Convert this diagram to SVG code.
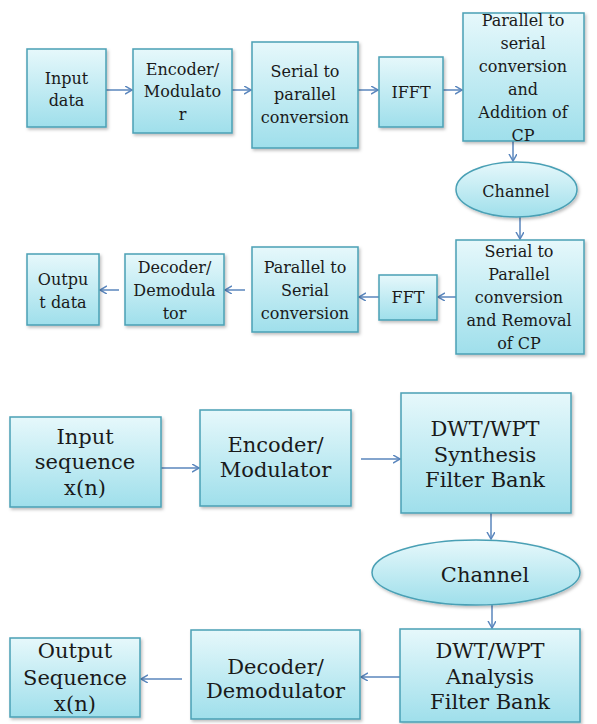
<svg xmlns="http://www.w3.org/2000/svg" width="597" height="724" viewBox="0 0 597 724">
<defs>
<linearGradient id="g" x1="0" y1="0" x2="0" y2="1">
<stop offset="0" stop-color="#e6f8fb"/>
<stop offset="1" stop-color="#9fdfeb"/>
</linearGradient>
<filter id="sh" x="-10%" y="-10%" width="130%" height="130%">
<feDropShadow dx="1.5" dy="2" stdDeviation="1.5" flood-color="#000" flood-opacity="0.25"/>
</filter>
<marker id="ah" markerUnits="userSpaceOnUse" markerWidth="10" markerHeight="10" refX="7" refY="4" orient="auto">
<path d="M0,0 L7,4 L0,8" fill="none" stroke="#5a86bd" stroke-width="1.5"/>
</marker>
<style>
.b{fill:url(#g);stroke:#4aa0b5;stroke-width:1.5;filter:url(#sh)}
.t{font-family:"DejaVu Serif","Liberation Serif",serif;font-size:16px;fill:#1a1a1a;text-anchor:middle}
.T{font-family:"DejaVu Serif","Liberation Serif",serif;font-size:21px;fill:#1a1a1a;text-anchor:middle}
.c line{stroke:#5a86bd;stroke-width:1.5;marker-end:url(#ah)}
</style>
</defs>
<rect width="597" height="724" fill="#ffffff"/>

<g class="c" id="connectors">
<line x1="106" y1="90" x2="132" y2="90"/>
<line x1="232" y1="90" x2="251" y2="90"/>
<line x1="358" y1="90" x2="378" y2="90"/>
<line x1="443" y1="90" x2="462" y2="90"/>
<line x1="513" y1="141" x2="513" y2="161"/>
<line x1="520" y1="217" x2="520" y2="239"/>
<line x1="456" y1="297" x2="438" y2="297"/>
<line x1="379" y1="297" x2="359" y2="297"/>
<line x1="245" y1="290" x2="225" y2="290"/>
<line x1="119" y1="290" x2="100" y2="290"/>
<line x1="161" y1="468" x2="199" y2="468"/>
<line x1="361" y1="459" x2="400" y2="459"/>
<line x1="491" y1="513" x2="491" y2="539"/>
<line x1="492" y1="605" x2="492" y2="628"/>
<line x1="400" y1="677" x2="361" y2="677"/>
<line x1="182" y1="679" x2="141" y2="679"/>
</g>

<g id="input-data"><rect class="b" x="27" y="49" width="79" height="78"/>
<text class="t" x="66.5" y="84">Input</text><text class="t" x="66.5" y="106">data</text></g>

<g id="encoder-top"><rect class="b" x="133" y="49" width="99" height="84"/>
<text class="t" x="182.5" y="75">Encoder/</text><text class="t" x="182.5" y="97">Modulato</text><text class="t" x="182.5" y="120">r</text></g>

<g id="s2p"><rect class="b" x="252" y="42" width="106" height="106"/>
<text class="t" x="305" y="77">Serial to</text><text class="t" x="305" y="100">parallel</text><text class="t" x="305" y="123">conversion</text></g>

<g id="ifft"><rect class="b" x="379" y="57" width="64" height="70"/>
<text class="t" x="411" y="98">IFFT</text></g>

<g id="p2s-cp"><rect class="b" x="463" y="13" width="121" height="128"/>
<text class="t" x="523" y="26">Parallel to</text><text class="t" x="523" y="49">serial</text><text class="t" x="523" y="72">conversion</text><text class="t" x="523" y="95">and</text><text class="t" x="523" y="118">Addition of</text><text class="t" x="523" y="141">CP</text></g>

<g id="channel-top"><ellipse class="b" cx="516.5" cy="189.5" rx="60.5" ry="27.5"/>
<text class="t" x="516" y="197">Channel</text></g>

<g id="s2p-cp"><rect class="b" x="456" y="240" width="128" height="114"/>
<text class="t" x="519" y="257">Serial to</text><text class="t" x="519" y="280">Parallel</text><text class="t" x="519" y="303">conversion</text><text class="t" x="519" y="326">and Removal</text><text class="t" x="519" y="349">of CP</text></g>

<g id="fft"><rect class="b" x="379" y="275" width="58" height="45"/>
<text class="t" x="408" y="303">FFT</text></g>

<g id="p2s"><rect class="b" x="252" y="247" width="106" height="85"/>
<text class="t" x="305" y="273">Parallel to</text><text class="t" x="305" y="296">Serial</text><text class="t" x="305" y="319">conversion</text></g>

<g id="decoder-top"><rect class="b" x="125" y="254" width="99" height="71"/>
<text class="t" x="174.5" y="273">Decoder/</text><text class="t" x="174.5" y="296">Demodula</text><text class="t" x="174.5" y="319">tor</text></g>

<g id="output-data"><rect class="b" x="27" y="254" width="72" height="71"/>
<text class="t" x="63" y="285">Outpu</text><text class="t" x="63" y="308">t data</text></g>

<g id="input-seq"><rect class="b" x="10" y="417" width="151" height="90"/>
<text class="T" x="85" y="444">Input</text><text class="T" x="85" y="469">sequence</text><text class="T" x="85" y="495">x(n)</text></g>

<g id="encoder-bottom"><rect class="b" x="200" y="410" width="151" height="96"/>
<text class="T" x="275.5" y="452">Encoder/</text><text class="T" x="275.5" y="477">Modulator</text></g>

<g id="synthesis"><rect class="b" x="401" y="393" width="170" height="120"/>
<text class="T" x="485" y="436">DWT/WPT</text><text class="T" x="485" y="462">Synthesis</text><text class="T" x="485" y="487">Filter Bank</text></g>

<g id="channel-bottom"><ellipse class="b" cx="476" cy="572.5" rx="104" ry="32.5"/>
<text class="T" x="485" y="582">Channel</text></g>

<g id="analysis"><rect class="b" x="400" y="629" width="180" height="93"/>
<text class="T" x="490" y="658">DWT/WPT</text><text class="T" x="490" y="684">Analysis</text><text class="T" x="490" y="709">Filter Bank</text></g>

<g id="decoder-bottom"><rect class="b" x="191" y="630" width="169" height="89"/>
<text class="T" x="275.5" y="674">Decoder/</text><text class="T" x="275.5" y="698">Demodulator</text></g>

<g id="output-seq"><rect class="b" x="10" y="638" width="130" height="79"/>
<text class="T" x="75" y="658">Output</text><text class="T" x="75" y="685">Sequence</text><text class="T" x="75" y="711">x(n)</text></g>
</svg>
